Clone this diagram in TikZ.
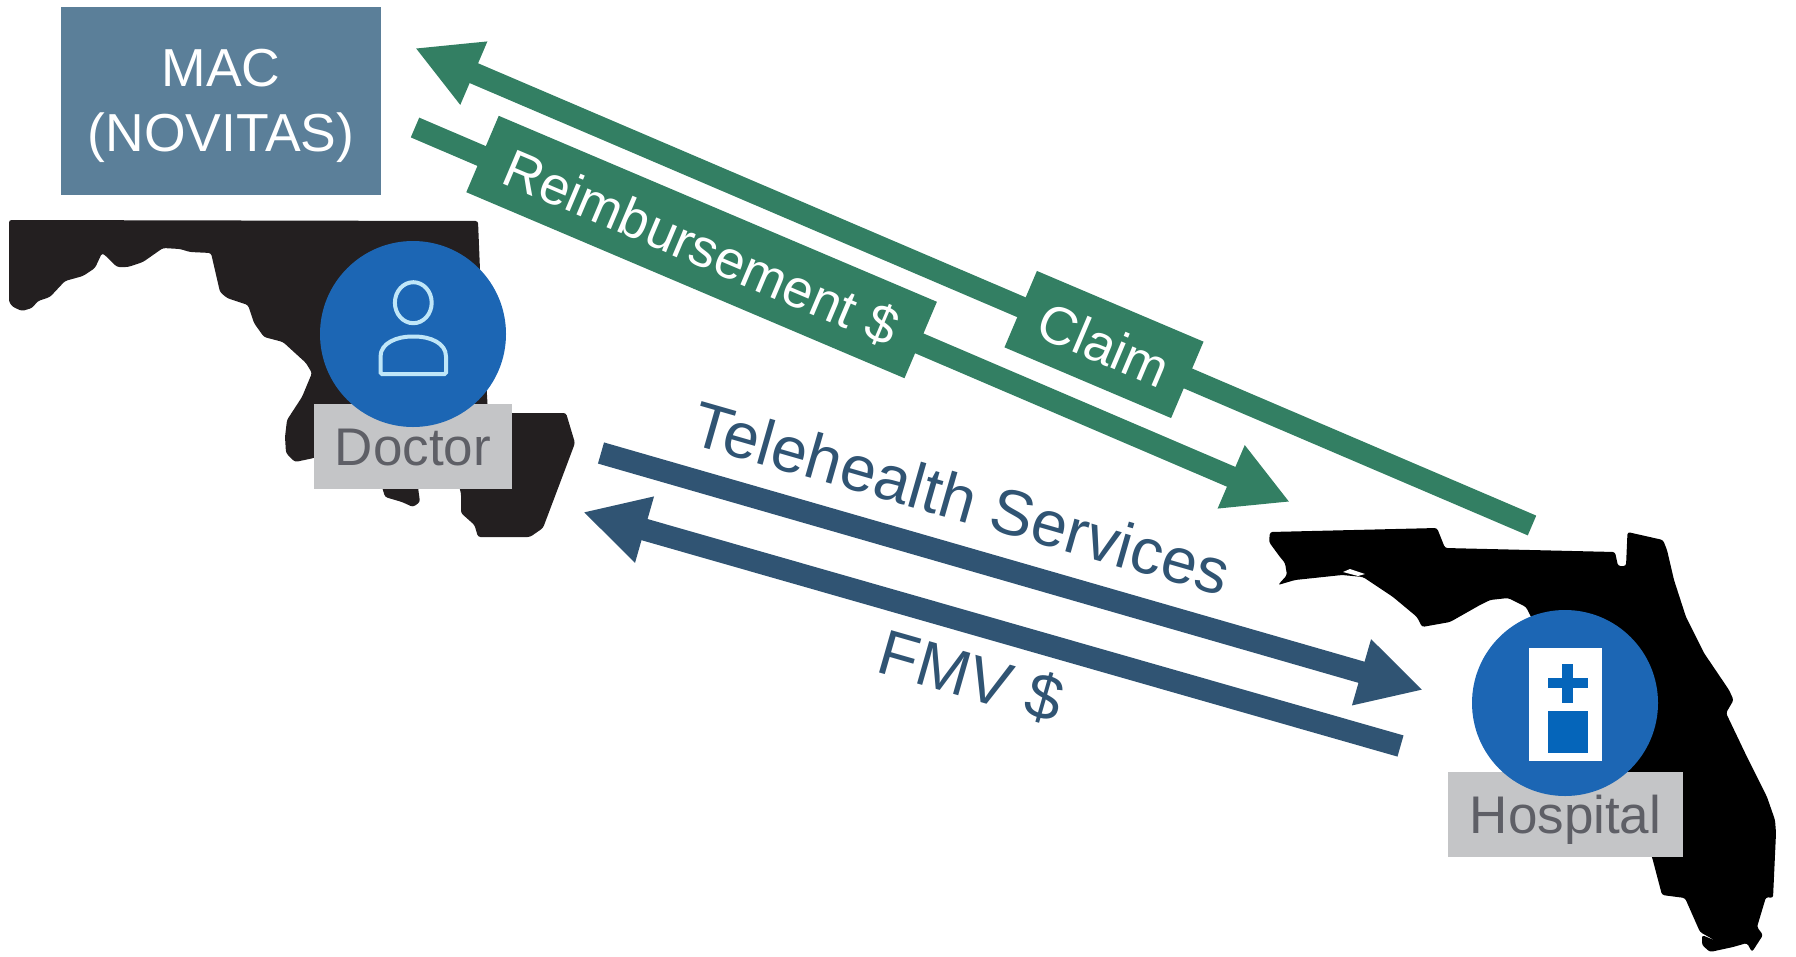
\documentclass[tikz,border=0pt]{standalone}
\usepackage{fontspec}
\setmainfont{Liberation Sans}
\usetikzlibrary{arrows.meta}
\definecolor{grn}{HTML}{337F63}
\definecolor{dblue}{HTML}{305473}
\definecolor{macblue}{HTML}{5B7F99}
\definecolor{circblue}{HTML}{1C66B4}
\definecolor{iconblue}{HTML}{0565BA}
\definecolor{lblgray}{HTML}{C4C5C7}
\definecolor{lbltext}{HTML}{5E5F66}
\definecolor{mdblack}{HTML}{231F20}
\definecolor{iconline}{HTML}{BFE6F8}
\tikzset{
  x=1pt,y=-1pt,
  greenarrow/.style={draw=grn,line width=21.5pt,-{Triangle[length=64pt,width=64pt]}},
  bluearrow/.style={draw=dblue,line width=22pt,-{Triangle[length=64pt,width=64pt]}},
  tag/.style={fill=grn,text=white,inner sep=0pt,font=\fontsize{53.5}{64}\selectfont,text height=38pt,text depth=0pt,minimum height=83pt},
  bluetext/.style={text=dblue,inner sep=0pt,font=\fontsize{64}{74}\selectfont},
  lbl/.style={fill=lblgray,text=lbltext,inner sep=0pt,font=\fontsize{53}{64}\selectfont,text height=38pt,text depth=0pt},
  badge/.style={circle,fill=circblue,inner sep=0pt,minimum size=186pt},
  statefill/.style={rounded corners=2.5pt},
  iconstroke/.style={draw=iconline,line width=4pt},
}
\begin{document}
\begin{tikzpicture}
\path[use as bounding box] (0,0) rectangle (1796,956);
% Maryland
\fill[mdblack,statefill] (9,220)--(478,221)--(480,270)--(488,413)--(566,413)--(575,443)--(566,467)--(543,528)--(530,537)--(478,537)--(474.5,525)--(461,513)--(461,493)--(457,480)--(417,480)--(420,502)--(413,507)--(402,502)--(385,497)--(380,480)--(330,450)--(314,458)--(295,462)--(286,453)--(285,437)--(287,420)--(302,397)--(312,373)--(306,363)--(283,342)--(264,337)--(254,323)--(248,305)--(227,298)--(220,292)--(211,253)--(190,252)--(180,249)--(163,248)--(143,262)--(128,267)--(117,267)--(107,257)--(102,253)--(95,268)--(83,276)--(65,281)--(50,297)--(38,301)--(32,308)--(22,311)--(13,307)--(9,302)--cycle;
% Florida
\fill[black,statefill] (1270,532)--(1437,528)--(1445,548)--(1615,552)--(1618,566)--(1626,566)--(1627.5,532)--(1663,540)--(1667,550)--(1674,580)--(1686,617)--(1704,653)--(1729,690)--(1733.6,700)--(1726,713)--(1747,757)--(1767,797)--(1775,820)--(1776,833)--(1773,898)--(1766,897)--(1757,927)--(1763,935)--(1752,952)--(1747,943)--(1733,947)--(1710,952)--(1702,945)--(1702,935)--(1716,941)--(1700,932)--(1685,898)--(1662,895)--(1652,857)--(1640,830)--(1526,607)--(1508,598)--(1490,600)--(1480,605)--(1450,622)--(1422,627)--(1417,617)--(1393,597)--(1363,577)--(1342,575)--(1295,580)--(1278,585)--(1287,575)--(1285,563)--(1280,557)--(1269,542)--cycle;
\fill[white] (1343,572)--(1350,569)--(1365,574)--(1358,576)--cycle;
% free ends of connectors
\coordinate (claimTail) at (1532,525.5);
\coordinate (claimTip) at (415,48);
\coordinate (reimbTail) at (415,127.5);
\coordinate (reimbTip) at (1290,502);
\coordinate (teleTail) at (601,453);
\coordinate (teleTip) at (1423,690);
\coordinate (fmvTail) at (1400.5,746);
\coordinate (fmvTip) at (583,512);
\draw[greenarrow] (claimTail) -- (claimTip);
\draw[greenarrow] (reimbTail) -- (reimbTip);
\draw[bluearrow] (teleTail) -- (teleTip);
\draw[bluearrow] (fmvTail) -- (fmvTip);
% MAC
\node[fill=macblue,inner sep=0pt,minimum width=320pt,minimum height=188pt] (mac) at (221,101) {};
\node[text=white,inner sep=0pt,align=center,font=\fontsize{53.5}{65}\selectfont,yshift=-5pt] (mactext) at (mac.center) {MAC\\(NOVITAS)};
% tags
\node[tag,minimum width=181pt,rotate=-23] (claim) at (1104,344.5) {Claim};
\node[tag,minimum width=476pt,rotate=-23] (reimb) at (701.6,247) {Reimbursement \$};
\node[bluetext,rotate=-16] (tele) at (962,498) {Telehealth Services};
\node[bluetext,rotate=-16] (fmv) at (971,677) {FMV \$};
% Doctor
\node[lbl,minimum width=198pt,minimum height=85pt] (doctorlbl) at (413,446.5) {Doctor};
\node[badge] (doctor) at (413,334) {};
\draw[iconstroke] (413.3,302.7) ellipse[x radius=18.4,y radius=20.5];
\draw[iconstroke,rounded corners=1.5pt] (380.5,374)--(380.5,358) .. controls (380.5,343) and (397,336.5) .. (413.3,336.5) .. controls (430,336.5) and (446,343) .. (446,358)--(446,374)--cycle;
% Hospital
\node[lbl,minimum width=235pt,minimum height=85pt] (hosplbl) at (1565.5,814.5) {Hospital};
\node[badge] (hospital) at (1565,703) {};
\fill[white] (1529,648) rectangle (1601.5,760.5);
\fill[iconblue] (1562,664) rectangle (1572.5,702.5);
\fill[iconblue] (1548,678) rectangle (1587.5,688);
\fill[iconblue] (1548,711) rectangle (1587.5,752.5);
\end{tikzpicture}
\end{document}
